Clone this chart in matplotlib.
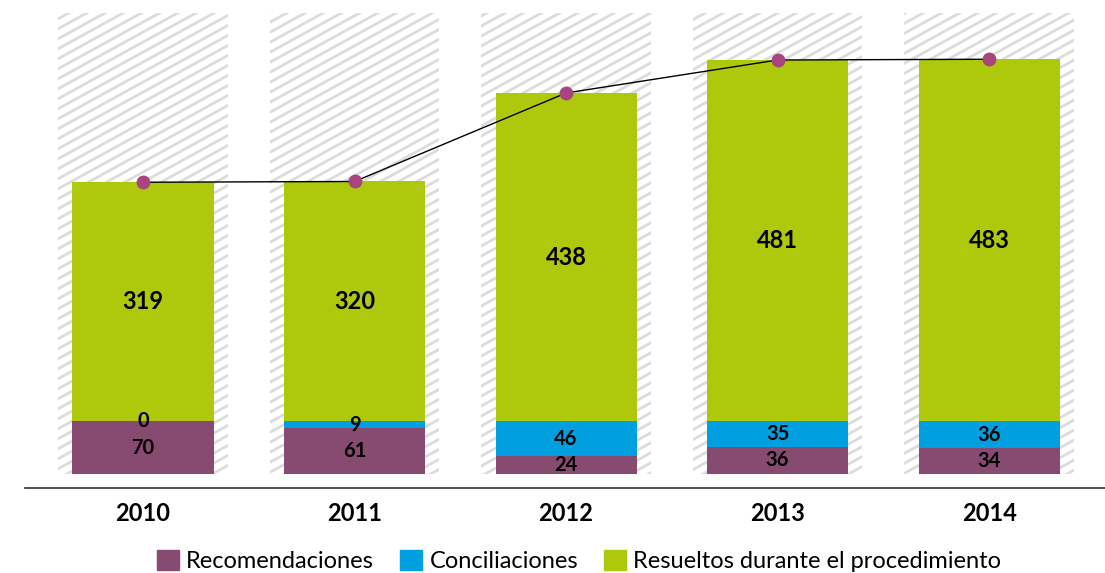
import matplotlib
matplotlib.use("Agg")
import matplotlib.pyplot as plt
from matplotlib.patches import Patch
from matplotlib.collections import LineCollection
from matplotlib.transforms import IdentityTransform
import numpy as np

years = ["2010", "2011", "2012", "2013", "2014"]
recomendaciones = [70, 61, 24, 36, 34]
conciliaciones = [0, 9, 46, 35, 36]
resueltos = [319, 320, 438, 481, 483]
background = [615, 615, 615, 615, 615]

c_rec = "#874B72"
c_con = "#00A0E0"
c_res = "#AEC90B"
c_mark = "#A8457F"

plt.rcParams["font.family"] = ["Lato", "DejaVu Sans"]

fig = plt.figure(figsize=(11.05, 5.73), dpi=100)
W, H = 1105, 573
ax = fig.add_axes([25 / W, (H - 488) / H, 1080 / W, 488 / H])

x = np.arange(len(years))
rec = np.array(recomendaciones)
con = np.array(conciliaciones)
res = np.array(resueltos)
tot = rec + con + res

ax.set_xlim(-0.558, 4.548)
ax.set_ylim(-18.7, 632)

bg = ax.bar(x, background, width=0.8, color="white", linewidth=0, zorder=1)

# diagonal hatch drawn in pixel space, clipped to each background bar
slope = 0.55
spacing = 10.0
segs = []
for c in np.arange(-slope * W - 50, H + 50, spacing):
    segs.append([(0, c), (W, slope * W + c)])
for patch in bg.patches:
    lc = LineCollection(segs, colors="#dcdcdc", linewidths=2.0, transform=IdentityTransform(), zorder=1.5)
    ax.add_collection(lc, autolim=False)
    lc.set_clip_path(patch)

ax.bar(x, rec, width=0.667, color=c_rec, zorder=2)
ax.bar(x, con, width=0.667, bottom=rec, color=c_con, zorder=2)
ax.bar(x, res, width=0.667, bottom=rec + con, color=c_res, zorder=2)

ax.plot(x, tot, color="black", linewidth=1, zorder=3)
ax.plot(x, tot, linestyle="none", marker="o", markersize=9, color=c_mark, zorder=4)

for i in range(len(x)):
    ax.text(x[i], rec[i] / 2, str(rec[i]), ha="center", va="center", fontsize=14.5, fontweight="bold", zorder=5)
    ax.text(x[i], rec[i] + con[i] / 2, str(con[i]), ha="center", va="center", fontsize=14.5, fontweight="bold", zorder=5)
    ax.text(x[i], rec[i] + con[i] + res[i] / 2, str(res[i]), ha="center", va="center", fontsize=17, fontweight="bold", zorder=5)

ax.set_xlim(-0.558, 4.548)
ax.set_ylim(-18.7, 632)
ax.set_xticks(x)
ax.set_xticklabels(years, fontsize=17, fontweight="bold")
ax.tick_params(axis="x", length=0, pad=10)
ax.set_yticks([])
for s in ["top", "right", "left"]:
    ax.spines[s].set_visible(False)
ax.spines["bottom"].set_color("#333333")
ax.spines["bottom"].set_linewidth(1.2)

handles = [Patch(color=c_rec), Patch(color=c_con), Patch(color=c_res)]
labels = ["Recomendaciones", "Conciliaciones", "Resueltos durante el procedimiento"]
fig.legend(handles, labels, loc="lower center", bbox_to_anchor=(579 / W, -0.035), ncol=3,
           frameon=False, fontsize=17, handlelength=0.95, handleheight=0.95, columnspacing=1.1, handletextpad=0.3)

fig.savefig("out.png", dpi=100)
